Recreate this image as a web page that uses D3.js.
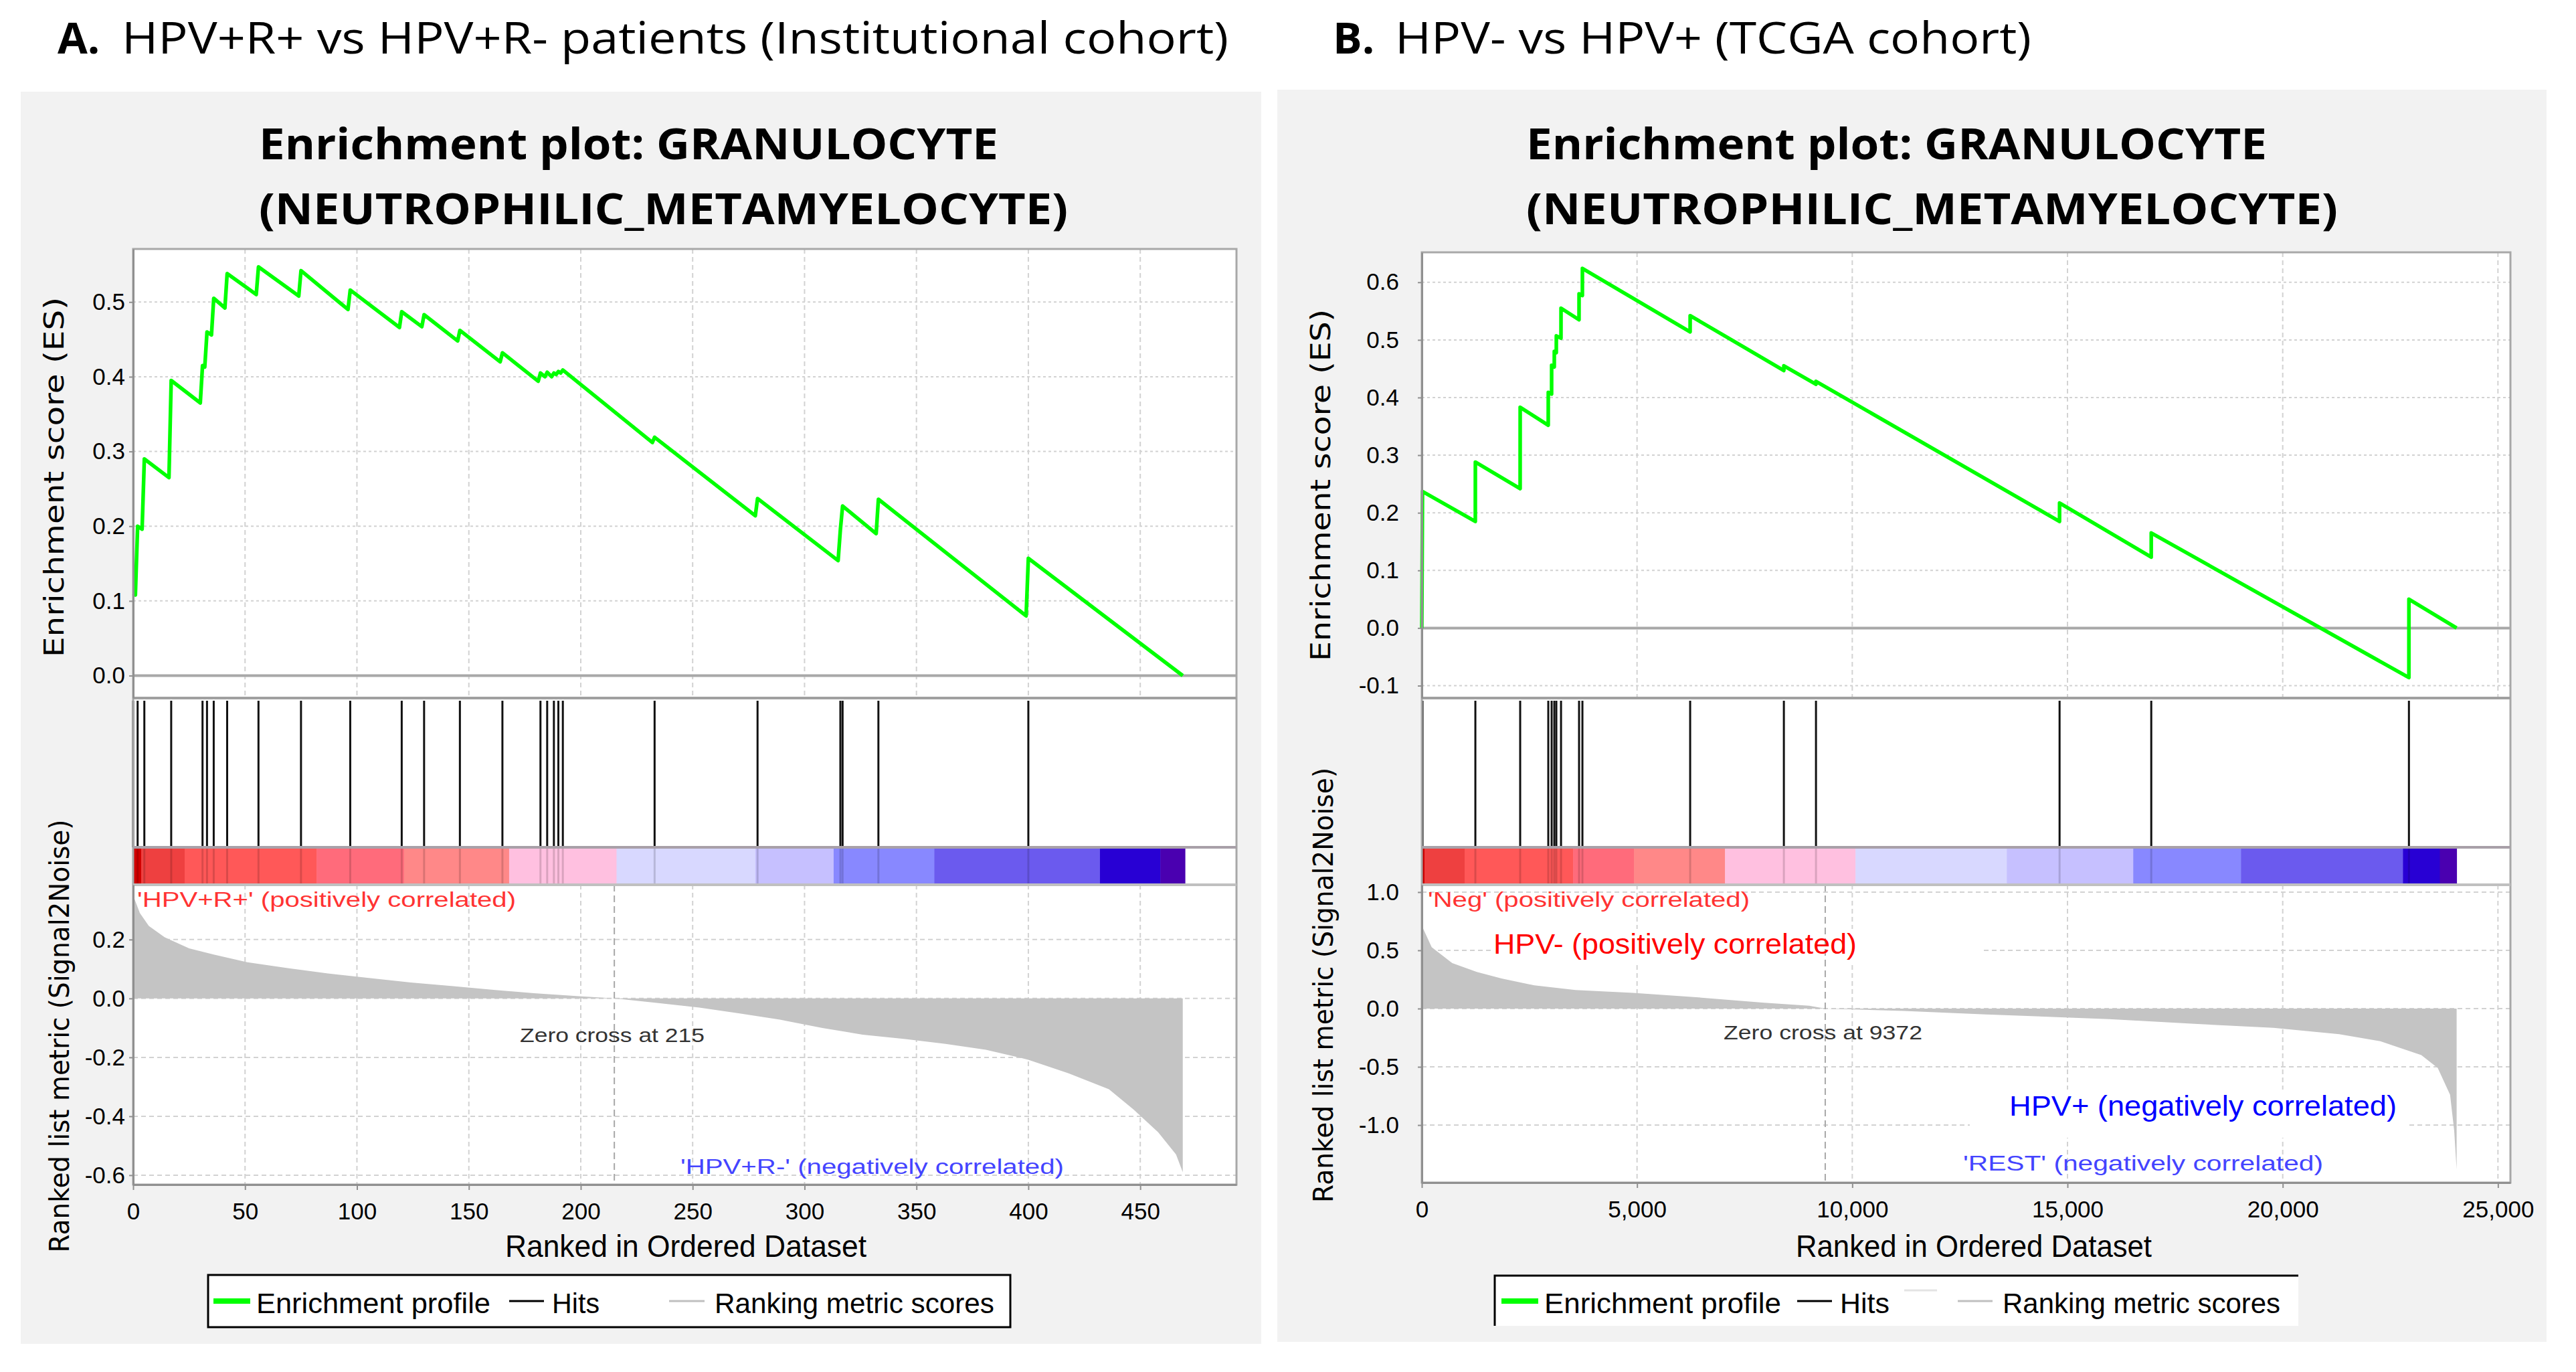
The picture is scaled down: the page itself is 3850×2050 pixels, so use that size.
<!DOCTYPE html>
<html>
<head>
<meta charset="utf-8">
<script src="https://d3js.org/d3.v7.min.js"></script>
<style>
  body { margin: 0; background: #fff; }
  svg { display: block; }
</style>
</head>
<body>
<div id="chart"></div>
<script>
// ---------- data: panel A (institutional cohort, 470 genes) ----------
const hitsA = [0, 2, 5, 17, 31, 33, 36, 42, 56, 75, 97, 120, 130, 146, 165,
  182, 185, 188, 190, 192, 233, 279, 316, 317, 333, 400];
// running enrichment score, vertices: [rank, ES]
const esA = [[0, 0.11], [1, 0.108], [2, 0.2], [4, 0.196], [5, 0.29], [16, 0.265],
  [17, 0.395], [30, 0.365], [31, 0.415], [32, 0.413], [33, 0.46], [35, 0.456],
  [36, 0.505], [41, 0.492], [42, 0.538], [55, 0.51], [56, 0.547], [74, 0.508],
  [75, 0.542], [96, 0.49], [97, 0.516], [119, 0.466], [120, 0.487], [129, 0.467],
  [130, 0.483], [145, 0.448], [146, 0.462], [164, 0.42], [165, 0.432], [181, 0.394],
  [182, 0.405], [184, 0.4], [185, 0.406], [187, 0.4], [188, 0.405], [189, 0.403],
  [190, 0.407], [191, 0.405], [192, 0.409], [232, 0.312], [233, 0.319], [278, 0.214],
  [279, 0.237], [315, 0.154], [316, 0.195], [317, 0.227], [332, 0.19], [333, 0.236],
  [399, 0.08], [400, 0.157], [469, 0.0]];
// ranked list metric (Signal2Noise): [rank, value]
const metricA = [[0, 0.35], [1, 0.33], [3, 0.29], [7, 0.246], [14, 0.208], [25, 0.17],
  [36, 0.149], [51, 0.123], [69, 0.103], [87, 0.085], [106, 0.069], [124, 0.054],
  [143, 0.042], [161, 0.029], [179, 0.018], [198, 0.008], [215, 0], [234, -0.015],
  [253, -0.031], [271, -0.051], [289, -0.072], [308, -0.1], [326, -0.123], [345, -0.138],
  [363, -0.154], [381, -0.174], [400, -0.208], [418, -0.254], [436, -0.308],
  [447, -0.377], [458, -0.454], [466, -0.53], [469, -0.59]];
const barBreaksA = [0, 3.6, 23, 82, 121, 168, 216, 278, 313, 358, 432, 459, 470];
const zeroCrossA = 215;
const xTicksA = [0, 50, 100, 150, 200, 250, 300, 350, 400, 450];
const esTicksA = [0.0, 0.1, 0.2, 0.3, 0.4, 0.5];
const metricTicksA = [0.2, 0.0, -0.2, -0.4, -0.6];

// ---------- data: panel B (TCGA cohort, 24040 genes) ----------
const hitsB = [16, 1244, 2285, 2938, 3016, 3078, 3125, 3234, 3653, 3731, 6234, 8411,
  9157, 14816, 16946, 22932];
const esB = [[0, 0.0], [16, 0.237], [1243, 0.185], [1244, 0.288], [2284, 0.242],
  [2285, 0.383], [2937, 0.352], [2938, 0.409], [3015, 0.406], [3016, 0.456],
  [3077, 0.453], [3078, 0.48], [3124, 0.478], [3125, 0.507], [3233, 0.503],
  [3234, 0.555], [3652, 0.535], [3653, 0.58], [3730, 0.577], [3731, 0.624],
  [6233, 0.514], [6234, 0.542], [8410, 0.447], [8411, 0.455], [9156, 0.423],
  [9157, 0.428], [14815, 0.185], [14816, 0.217], [16945, 0.123], [16946, 0.165],
  [22931, -0.086], [22932, 0.05], [24040, 0.0]];
const metricB = [[0, 0.72], [40, 0.68], [229, 0.527], [706, 0.39], [1278, 0.315],
  [1851, 0.258], [2614, 0.2], [3568, 0.16], [4904, 0.135], [6430, 0.096], [7956, 0.05],
  [9000, 0.025], [9372, 0], [11200, -0.02], [13108, -0.05], [15970, -0.09],
  [17878, -0.13], [19786, -0.165], [21312, -0.22], [22266, -0.28], [23220, -0.4],
  [23602, -0.51], [23888, -0.74], [23984, -1.05], [24040, -1.38]];
const barBreaksB = [0, 62, 995, 3514, 4928, 7043, 10075, 13590, 16527, 19030, 22793,
  23650, 24040];
const zeroCrossB = 9372;
const xTicksB = [0, 5000, 10000, 15000, 20000, 25000];
const esTicksB = [-0.1, 0.0, 0.1, 0.2, 0.3, 0.4, 0.5, 0.6];
const metricTicksB = [1.0, 0.5, 0.0, -0.5, -1.0];

// shared
const barColors = ['#d20000', '#ee4040', '#ff5858', '#ff6b7b', '#ff8888', '#ffc0e0',
  '#d8d8ff', '#c6c0ff', '#8888ff', '#6b5aee', '#2800d4', '#4a00b0'];
const plotTitle = ['Enrichment plot: GRANULOCYTE', '(NEUTROPHILIC_METAMYELOCYTE)'];
const legendNames = ['Enrichment profile', 'Hits', 'Ranking metric scores'];

const TICK_FONT = '"Liberation Sans", Arial, sans-serif';
const TITLE_FONT = '"Open Sans", "Noto Sans", sans-serif';
const LABEL_FONT = '"DejaVu Sans", Verdana, sans-serif';

const svg = d3.select('#chart').append('svg')
  .attr('width', 3850).attr('height', 2050);

function txt(g, x, y, s, o) {
  const t = g.append('text').attr('x', x).attr('y', y).text(s)
    .attr('font-family', o.font).attr('font-size', o.size)
    .attr('fill', o.color || '#000');
  if (o.weight) t.attr('font-weight', o.weight);
  if (o.len) t.attr('textLength', o.len).attr('lengthAdjust', 'spacingAndGlyphs');
  return t;
}

function styleAxis(a) {
  a.attr('font-family', TICK_FONT).attr('font-size', 35);
  a.select('.domain').attr('stroke', '#909090').attr('stroke-width', 3);
  a.selectAll('.tick line').attr('stroke', '#909090').attr('stroke-width', 2);
  a.selectAll('.tick text').attr('fill', '#000');
}

function drawPanel(p, d) {
  const g = svg.append('g');
  g.append('rect').attr('x', p.bg[0]).attr('y', p.bg[1])
    .attr('width', p.bg[2] - p.bg[0]).attr('height', p.bg[3] - p.bg[1])
    .attr('fill', '#f2f2f2');

  // panel heading and plot title
  txt(g, p.head.x, 80, p.head.tag, { font: TITLE_FONT, size: 65, weight: 'bold' });
  txt(g, p.head.x2, 80, p.head.text, { font: TITLE_FONT, size: 65, len: p.head.len });
  txt(g, p.ptX, 238, plotTitle[0], { font: TITLE_FONT, size: 65, weight: 'bold', len: p.ptLen[0] });
  txt(g, p.ptX, 335, plotTitle[1], { font: TITLE_FONT, size: 65, weight: 'bold', len: p.ptLen[1] });

  const x = d3.scaleLinear().domain([0, p.xMax]).range([p.left, p.right]);
  const yEs = d3.scaleLinear().domain(p.esDomain).range([p.esBottom, p.top]);
  const yMet = d3.scaleLinear().domain(p.metDomain).range([p.bottom, p.barBottom]);

  g.append('rect').attr('x', p.left).attr('y', p.top)
    .attr('width', p.right - p.left).attr('height', p.bottom - p.top).attr('fill', '#fff');

  // grid
  const grid = '#d2d2d2';
  [[p.top, p.esBottom], [p.barBottom, p.bottom]].forEach(([y0, y1]) => {
    g.append('g').selectAll('line').data(d.xTicks.filter(v => v > 0)).enter()
      .append('line')
      .attr('x1', v => x(v)).attr('x2', v => x(v)).attr('y1', y0).attr('y2', y1)
      .attr('stroke', grid).attr('stroke-width', 2).attr('stroke-dasharray', '7,5');
  });
  g.append('g').selectAll('line').data(d.esTicks.filter(v => v !== 0)).enter()
    .append('line')
    .attr('x1', p.left).attr('x2', p.right)
    .attr('y1', v => yEs(v)).attr('y2', v => yEs(v))
    .attr('stroke', grid).attr('stroke-width', 2).attr('stroke-dasharray', '4,4');
  g.append('line').attr('x1', p.left).attr('x2', p.right)
    .attr('y1', yEs(0)).attr('y2', yEs(0))
    .attr('stroke', '#a8a8a8').attr('stroke-width', 4);
  g.append('g').selectAll('line').data(d.metTicks).enter()
    .append('line')
    .attr('x1', p.left).attr('x2', p.right)
    .attr('y1', v => yMet(v)).attr('y2', v => yMet(v))
    .attr('stroke', grid).attr('stroke-width', 2).attr('stroke-dasharray', '7,5');

  // white boxes behind the added annotations
  (p.boxes || []).forEach(b => {
    g.append('rect').attr('x', b[0]).attr('y', b[1])
      .attr('width', b[2] - b[0]).attr('height', b[3] - b[1]).attr('fill', '#fff');
  });

  // ranked metric scores
  const area = d3.area()
    .x(v => x(v[0])).y0(yMet(0)).y1(v => yMet(v[1]));
  g.append('path').datum(d.metric).attr('d', area).attr('fill', '#c4c4c4');

  // zero cross marker
  g.append('line').attr('x1', x(d.zeroCross)).attr('x2', x(d.zeroCross))
    .attr('y1', p.barBottom).attr('y2', p.bottom)
    .attr('stroke', '#a8a8a8').attr('stroke-width', 2).attr('stroke-dasharray', '10,6');

  // enrichment profile
  const line = d3.line().x(v => x(v[0])).y(v => yEs(v[1]));
  g.append('path').datum(d.es).attr('d', line)
    .attr('fill', 'none').attr('stroke', '#00ff00').attr('stroke-width', 5.5)
    .attr('stroke-linejoin', 'round');

  // color bar
  const segs = d3.range(barColors.length).map(i => [d.breaks[i], d.breaks[i + 1], barColors[i]]);
  g.append('g').selectAll('rect').data(segs).enter().append('rect')
    .attr('x', s => x(s[0])).attr('width', s => x(s[1]) - x(s[0]) + 0.5)
    .attr('y', p.barTop).attr('height', p.barBottom - p.barTop)
    .attr('fill', s => s[2]);

  // hits
  g.append('g').selectAll('line').data(d.hits).enter().append('line')
    .attr('x1', v => x(v)).attr('x2', v => x(v))
    .attr('y1', p.esBottom + 4).attr('y2', p.barTop)
    .attr('stroke', '#111').attr('stroke-width', 3);
  g.append('g').selectAll('line').data(d.hits).enter().append('line')
    .attr('x1', v => x(v)).attr('x2', v => x(v))
    .attr('y1', p.barTop).attr('y2', p.barBottom)
    .attr('stroke', '#000').attr('stroke-opacity', 0.15).attr('stroke-width', 3);

  // frame and separators
  g.append('rect').attr('x', p.left).attr('y', p.top)
    .attr('width', p.right - p.left).attr('height', p.bottom - p.top)
    .attr('fill', 'none').attr('stroke', '#a8a8a8').attr('stroke-width', 3);
  [[p.esBottom, '#a0a0a0'], [p.barTop, '#a8a0a8'], [p.barBottom, '#c0c0c0']].forEach(([y, c]) => {
    g.append('line').attr('x1', p.left).attr('x2', p.right).attr('y1', y).attr('y2', y)
      .attr('stroke', c).attr('stroke-width', 4);
  });

  // axes
  const fmt1 = v => v.toFixed(1);
  const ax1 = g.append('g').attr('transform', `translate(${p.left},0)`)
    .call(d3.axisLeft(yEs).tickValues(d.esTicks).tickFormat(fmt1)
      .tickSize(6).tickSizeOuter(0).tickPadding(p.yPad));
  styleAxis(ax1);
  const ax2 = g.append('g').attr('transform', `translate(${p.left},0)`)
    .call(d3.axisLeft(yMet).tickValues(d.metTicks).tickFormat(fmt1)
      .tickSize(6).tickSizeOuter(0).tickPadding(p.yPad));
  styleAxis(ax2);
  const ax3 = g.append('g').attr('transform', `translate(0,${p.bottom})`)
    .call(d3.axisBottom(x).tickValues(d.xTicks).tickFormat(p.xFmt)
      .tickSize(8).tickSizeOuter(0).tickPadding(19));
  styleAxis(ax3);

  // axis titles
  txt(g, 0, 0, 'Enrichment score (ES)', { font: LABEL_FONT, size: 40, len: p.esLab[2] })
    .attr('text-anchor', 'middle')
    .attr('transform', `translate(${p.esLab[0]},${p.esLab[1]}) rotate(-90)`);
  txt(g, 0, 0, 'Ranked list metric (Signal2Noise)', { font: LABEL_FONT, size: 40, len: p.metLab[2] })
    .attr('text-anchor', 'middle')
    .attr('transform', `translate(${p.metLab[0]},${p.metLab[1]}) rotate(-90)`);
  txt(g, p.xLab[0], 1878, 'Ranked in Ordered Dataset', { font: TICK_FONT, size: 46, len: p.xLab[1] });

  // annotations inside the metric panel
  p.notes.forEach(n => {
    txt(g, n.x, n.y, n.s, { font: TICK_FONT, size: n.size, color: n.color, len: n.len });
  });

  // legend
  const L = p.legend;
  g.append('rect').attr('x', L.box[0]).attr('y', L.box[1])
    .attr('width', L.box[2] - L.box[0]).attr('height', L.box[3] - L.box[1])
    .attr('fill', '#fff').attr('stroke', L.open ? 'none' : '#000').attr('stroke-width', 3);
  if (L.open) {
    g.append('path')
      .attr('d', `M${L.box[0]},${L.box[3]}V${L.box[1]}H${L.box[2]}`)
      .attr('fill', 'none').attr('stroke', '#000').attr('stroke-width', 3);
    g.append('line').attr('x1', L.faint[0]).attr('x2', L.faint[1])
      .attr('y1', 1928).attr('y2', 1928).attr('stroke', '#e4e4e4').attr('stroke-width', 3);
  }
  const marks = [['#00ff00', 8], ['#000', 3], ['#c0c0c0', 3]];
  legendNames.forEach((name, i) => {
    g.append('line').attr('x1', L.lines[i][0]).attr('x2', L.lines[i][1])
      .attr('y1', 1944).attr('y2', 1944)
      .attr('stroke', marks[i][0]).attr('stroke-width', marks[i][1]);
    txt(g, L.texts[i][0], 1962, name, { font: TICK_FONT, size: 42, len: L.texts[i][1] });
  });
}

drawPanel({
  bg: [31, 137, 1885, 2008],
  head: { x: 86, tag: 'A.', x2: 182, len: 1654,
    text: 'HPV+R+ vs HPV+R- patients (Institutional cohort)' },
  ptX: 387, ptLen: [1105, 1209],
  left: 199, right: 1848, top: 372, esBottom: 1043, barTop: 1266, barBottom: 1322,
  bottom: 1770, xMax: 493, esDomain: [-0.03, 0.571], metDomain: [-0.632, 0.386],
  yPad: 6, xFmt: d3.format('d'),
  esLab: [95, 713, 538], metLab: [103, 1548, 647], xLab: [755, 540],
  notes: [
    { x: 205, y: 1355, s: "'HPV+R+' (positively correlated)", size: 31, color: '#ff3333', len: 566 },
    { x: 777, y: 1557, s: 'Zero cross at 215', size: 30, color: '#333', len: 276 },
    { x: 1017, y: 1754, s: "'HPV+R-' (negatively correlated)", size: 31, color: '#4444ff', len: 573 }
  ],
  legend: { box: [311, 1905, 1510, 1983],
    lines: [[319, 374], [761, 813], [1000, 1053]],
    texts: [[383, 350], [825, 71], [1068, 418]] }
}, { hits: hitsA, es: esA, metric: metricA, breaks: barBreaksA, zeroCross: zeroCrossA,
  xTicks: xTicksA, esTicks: esTicksA, metTicks: metricTicksA });

drawPanel({
  bg: [1909, 134, 3806, 2005],
  head: { x: 1992, tag: 'B.', x2: 2085, len: 951, text: 'HPV- vs HPV+ (TCGA cohort)' },
  ptX: 2281, ptLen: [1107, 1213],
  left: 2125, right: 3752, top: 377, esBottom: 1043, barTop: 1266, barBottom: 1322,
  bottom: 1767, xMax: 25290, esDomain: [-0.1215, 0.652], metDomain: [-1.494, 1.063],
  yPad: 28, xFmt: d3.format(','),
  esLab: [1988, 725, 526], metLab: [1992, 1472, 650], xLab: [2684, 532],
  boxes: [[2228, 1388, 2962, 1442], [2944, 1628, 3600, 1700]],
  notes: [
    { x: 2134, y: 1355, s: "'Neg' (positively correlated)", size: 31, color: '#ff3333', len: 481 },
    { x: 2232, y: 1425, s: 'HPV- (positively correlated)', size: 42, color: '#ff0000', len: 543 },
    { x: 2576, y: 1553, s: 'Zero cross at 9372', size: 30, color: '#333', len: 297 },
    { x: 3003, y: 1667, s: 'HPV+  (negatively correlated)', size: 42, color: '#0000ff', len: 579 },
    { x: 2934, y: 1749, s: "'REST' (negatively correlated)", size: 31, color: '#4444ff', len: 538 }
  ],
  legend: { box: [2234, 1906, 3435, 1981], open: true, faint: [2846, 2895],
    lines: [[2244, 2299], [2686, 2738], [2926, 2978]],
    texts: [[2308, 354], [2750, 74], [2993, 415]] }
}, { hits: hitsB, es: esB, metric: metricB, breaks: barBreaksB, zeroCross: zeroCrossB,
  xTicks: xTicksB, esTicks: esTicksB, metTicks: metricTicksB });
</script>
</body>
</html>
